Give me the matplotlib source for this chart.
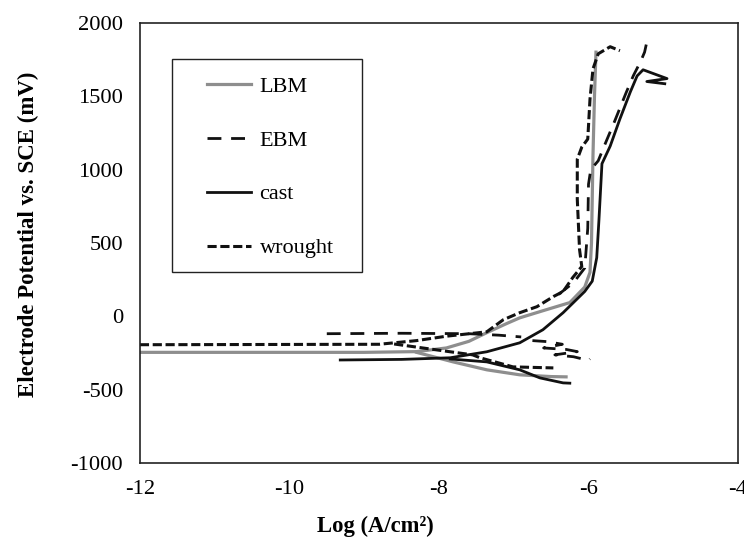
"""potentiodynamic polarisation curves: LBM, EBM, cast, wrought
"""

from matplotlib import pyplot
from matplotlib.patches import Rectangle

# --- data (log current density, potential in mV) ---

# LBM (grey solid)
lbm_anodic_x = [-12.0, -9.0, -8.3, -7.9, -7.6, -7.36, -7.1, -6.92, -6.6, -6.25, -6.05,
                -5.98, -5.96, -5.95, -5.94, -5.93, -5.92, -5.91, -5.9]
lbm_anodic_y = [-245, -245, -240, -215, -170, -111, -50, -10, 40, 94, 200,
                300, 500, 800, 1100, 1300, 1500, 1650, 1800]
lbm_cathodic_x = [-8.3, -7.81, -7.36, -6.92, -6.5, -6.3]
lbm_cathodic_y = [-245, -310, -364, -398, -410, -412]

# EBM (long dashes)
ebm_flat_x = [-9.5, -8.5, -7.6, -7.2, -6.9]
ebm_flat_y = [-118, -115, -118, -128, -140]
ebm_noise_x = [-6.75, -6.55, -6.35, -6.6, -6.3, -6.15, -6.45, -6.2, -6.0, -5.98]
ebm_noise_y = [-165, -172, -190, -215, -225, -240, -262, -275, -300, -290]
ebm_anodic_x = [-6.4, -6.2, -6.05, -6.01, -6.0, -5.97, -5.87, -5.79, -5.65, -5.5,
                -5.4, -5.3, -5.25, -5.22]
ebm_anodic_y = [150, 230, 330, 600, 900, 1000, 1060, 1160, 1330, 1520,
                1640, 1740, 1800, 1870]

# cast (black solid)
cast_anodic_x = [-9.32, -8.5, -7.85, -7.36, -6.92, -6.61, -6.34, -6.05, -5.95,
                 -5.89, -5.86, -5.82, -5.71, -5.58, -5.44, -5.35, -5.27,
                 -4.95, -5.22, -4.98]
cast_anodic_y = [-297, -293, -282, -241, -180, -91, 25, 170, 240,
                 400, 660, 1040, 1160, 1345, 1530, 1638, 1680,
                 1620, 1600, 1585]
cast_cathodic_x = [-7.85, -7.36, -6.92, -6.65, -6.34, -6.25]
cast_cathodic_y = [-290, -310, -364, -419, -453, -455]

# wrought (short dashes)
wrought_anodic_x = [-12.0, -8.8, -8.3, -7.9, -7.36, -7.14, -6.92, -6.69, -6.47,
                    -6.34, -6.21, -6.09, -6.12, -6.15, -6.15, -6.09, -6.01,
                    -5.98, -5.94, -5.87, -5.71, -5.58]
wrought_anodic_y = [-193, -190, -165, -135, -105, -23, 25, 66, 135,
                    169, 265, 340, 456, 798, 1071, 1153, 1208,
                    1481, 1686, 1789, 1837, 1810]
wrought_cathodic_x = [-8.6, -7.85, -7.55, -7.45, -7.01, -6.47]
wrought_cathodic_y = [-188, -241, -262, -282, -344, -351]

x_ticks = [-12, -10, -8, -6, -4]
y_ticks = [-1000, -500, 0, 500, 1000, 1500, 2000]

pyplot.rcParams['font.family'] = ['Liberation Serif', 'DejaVu Serif']
pyplot.rcParams['axes.unicode_minus'] = False

fig = pyplot.figure(figsize=(7.44, 5.43), dpi=100)
ax = fig.add_axes([0.188, 0.147, 0.804, 0.811])

grey = '#8e8e8e'
black = '#111111'
ebm_style = dict(color=black, lw=2.0, linestyle=(0, (5, 3.5)))
wrought_style = dict(color=black, lw=2.2, linestyle=(0, (3, 1.2)))
cast_style = dict(color=black, lw=2.0, linestyle='-')
lbm_style = dict(color=grey, lw=2.3, linestyle='-')

ax.plot(lbm_anodic_x, lbm_anodic_y, label='LBM', **lbm_style)
ax.plot(lbm_cathodic_x, lbm_cathodic_y, **lbm_style)
ax.plot(ebm_flat_x, ebm_flat_y, label='EBM', **ebm_style)
ax.plot(ebm_noise_x, ebm_noise_y, **ebm_style)
ax.plot(ebm_anodic_x, ebm_anodic_y, **ebm_style)
ax.plot(cast_anodic_x, cast_anodic_y, label='cast', **cast_style)
ax.plot(cast_cathodic_x, cast_cathodic_y, **cast_style)
ax.plot(wrought_anodic_x, wrought_anodic_y, label='wrought', **wrought_style)
ax.plot(wrought_cathodic_x, wrought_cathodic_y, **wrought_style)

ax.set_xlim(-12, -4)
ax.set_ylim(-1000, 2000)
ax.set_xticks(x_ticks)
ax.set_yticks(y_ticks)
ax.tick_params(length=0, labelsize=16.2)
ax.tick_params(axis='x', pad=12)
ax.tick_params(axis='y', pad=12)
for side in ax.spines.values():
    side.set_linewidth(1.2)
    side.set_color('#222222')

ax.set_xlabel('Log (A/cm²)', fontsize=16.3, fontweight='bold')
ax.set_ylabel('Electrode Potential vs. SCE (mV)', fontsize=16.5, fontweight='bold')
ax.xaxis.set_label_coords(0.393, -0.12)
ax.yaxis.set_label_coords(-0.168, 0.52)

# legend frame is wider than matplotlib would pad it, so draw it separately
ax.add_patch(Rectangle((0.0535, 0.433), 0.318, 0.485, transform=ax.transAxes,
                       fill=False, edgecolor='#222222', lw=1.0, zorder=4))
ax.legend(loc='upper left', bbox_to_anchor=(0.112, 0.879), borderaxespad=0,
          fontsize=16, frameon=False, borderpad=0, labelspacing=1.5,
          handlelength=2.0, handletextpad=0.37)

fig.savefig('out.png', dpi=100)
